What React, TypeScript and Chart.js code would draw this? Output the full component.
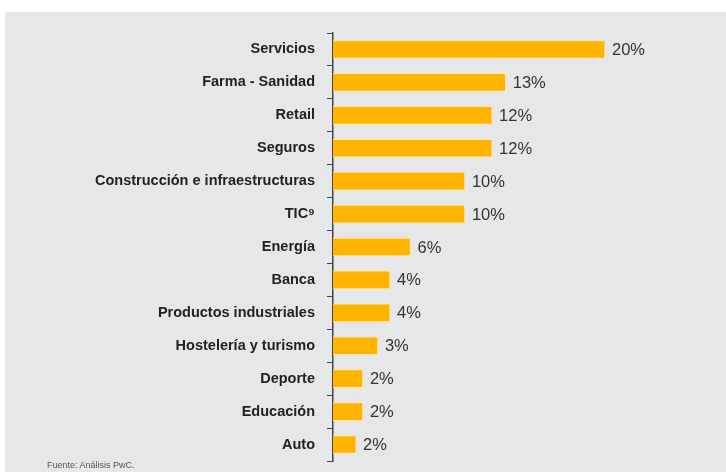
import React, { useEffect, useRef } from "react";
import { Chart, registerables } from "chart.js";

Chart.register(...registerables);

const categories = [
  "Servicios",
  "Farma - Sanidad",
  "Retail",
  "Seguros",
  "Construcción e infraestructuras",
  "TIC⁹",
  "Energía",
  "Banca",
  "Productos industriales",
  "Hostelería y turismo",
  "Deporte",
  "Educación",
  "Auto",
];
const values = [20, 12.7, 11.7, 11.7, 9.7, 9.7, 5.7, 4.2, 4.2, 3.3, 2.2, 2.2, 1.7];
const valueLabels = ["20%", "13%", "12%", "12%", "10%", "10%", "6%", "4%", "4%", "3%", "2%", "2%", "2%"];
const sourceNote = "Fuente: Análisis PwC.";

const valueLabelPlugin = {
  id: "valueLabels",
  afterDatasetsDraw(chart: any) {
    const ctx = chart.ctx;
    const meta = chart.getDatasetMeta(0);
    ctx.save();
    ctx.font = '16.5px "Liberation Sans", Arial, sans-serif';
    ctx.fillStyle = "#333333";
    ctx.textAlign = "left";
    ctx.textBaseline = "middle";
    meta.data.forEach((bar: any, i: number) => {
      ctx.fillText(valueLabels[i], bar.x + 7, bar.y + 1);
    });
    ctx.restore();
  },
};

export default function App() {
  const ref = useRef<HTMLCanvasElement | null>(null);
  useEffect(() => {
    if (!ref.current) return;
    const chart = new Chart(ref.current, {
      type: "bar",
      data: {
        labels: categories,
        datasets: [
          {
            data: values,
            backgroundColor: "#FFB500",
            borderColor: "#FFE7A6",
            borderWidth: 1,
            barThickness: 18,
          },
        ],
      },
      options: {
        indexAxis: "y",
        animation: false,
        responsive: false,
        maintainAspectRatio: false,
        layout: { padding: { left: 0, right: 53, top: 21, bottom: 11 } },
        plugins: {
          legend: { display: false },
          tooltip: { enabled: false },
        },
        scales: {
          x: {
            display: false,
            min: 0,
            max: 25,
          },
          y: {
            afterFit: (s: any) => {
              s.width = 328;
              s.paddingTop = 0;
              s.paddingBottom = 0;
            },
            grid: {
              drawOnChartArea: false,
              drawTicks: true,
              tickLength: 6,
              color: "#444444",
              offset: true,
            },
            border: { display: true, color: "#444444", width: 1.5 },
            ticks: {
              padding: 12,
              color: "#222222",
              font: { family: '"Liberation Sans", Arial, sans-serif', size: 14.5, weight: "bold" },
              autoSkip: false,
            },
          },
        },
      },
      plugins: [valueLabelPlugin],
    });
    return () => chart.destroy();
  }, []);

  return (
    <div style={{ position: "fixed", left: 0, top: 0, width: 726, height: 472, background: "#ffffff", overflow: "hidden" }}>
      <div style={{ position: "absolute", left: 5, top: 12, width: 721, height: 460, background: "#E6E7E8" }}>
        <canvas ref={ref} width={721} height={460} style={{ display: "block" }} />
        <div
          style={{
            position: "absolute",
            left: 42,
            top: 448,
            fontFamily: '"Liberation Sans", Arial, sans-serif',
            fontSize: 9,
            color: "#555555",
          }}
        >
          {sourceNote}
        </div>
      </div>
    </div>
  );
}
